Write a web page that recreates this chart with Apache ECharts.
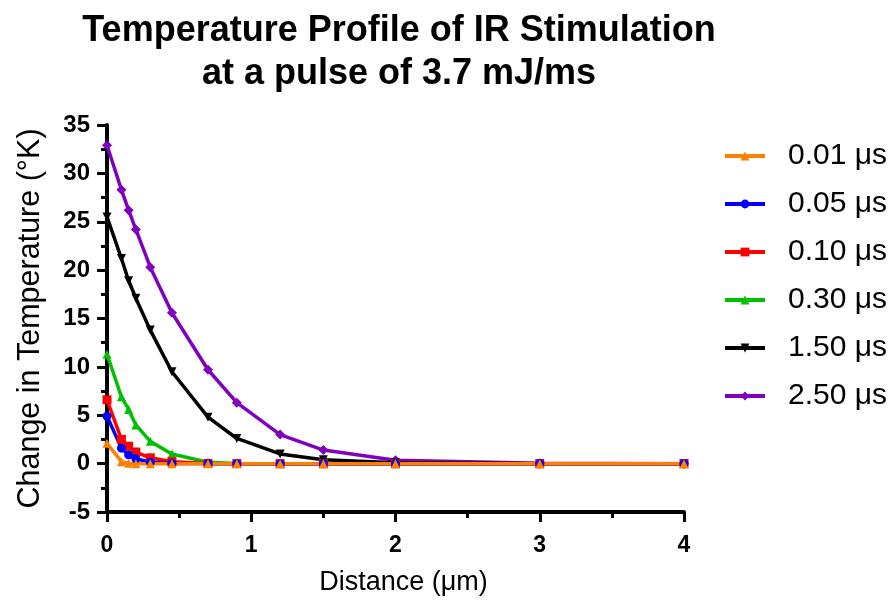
<!DOCTYPE html>
<html>
<head>
<meta charset="utf-8">
<title>Temperature Profile of IR Stimulation</title>
<script src="https://cdn.jsdelivr.net/npm/echarts@6/dist/echarts.min.js"></script>
<style>
  html, body { margin: 0; padding: 0; background: #fff; }
  #chart { width: 895px; height: 605px; }
</style>
</head>
<body>
<div id="chart"></div>
<script>
// distance (µm) shared by every series
var distance = [0, 0.1, 0.15, 0.2, 0.3, 0.45, 0.7, 0.9, 1.2, 1.5, 2, 3, 4]

var seriesNames = ['0.01 μs', '0.05 μs', '0.10 μs', '0.30 μs', '1.50 μs', '2.50 μs']

// change in temperature (°K)
var t001 = [2.1, 0.2, 0.05, 0, 0, 0, 0, 0, 0, 0, 0, 0, 0]
var t005 = [4.9, 1.6, 0.9, 0.5, 0.15, 0.02, 0, 0, 0, 0, 0, 0, 0]
var t010 = [6.6, 2.5, 1.8, 1.2, 0.6, 0.2, 0.02, 0, 0, 0, 0, 0, 0]
var t030 = [11.3, 6.9, 5.6, 4.0, 2.3, 1.0, 0.15, 0.02, 0, 0, 0, 0, 0]
var t150 = [25.5, 21.2, 18.9, 17.1, 13.8, 9.5, 4.8, 2.6, 1.0, 0.4, 0.1, 0, 0]
var t250 = [32.9, 28.3, 26.2, 24.2, 20.3, 15.6, 9.7, 6.3, 3.0, 1.4, 0.35, 0.05, 0]

var xTicks = [0, 1, 2, 3, 4]
var yTicks = [-5, 0, 5, 10, 15, 20, 25, 30, 35]

function pairs (ys) {
  return distance.map(function (x, i) { return [x, ys[i]] })
}

var fontFamily = '"Liberation Sans", Arial, sans-serif'

var styles = [
  { color: '#FF8000', symbol: 'triangle', rotate: 0, size: 9 },
  { color: '#0000FF', symbol: 'circle', rotate: 0, size: 9 },
  { color: '#FF0000', symbol: 'rect', rotate: 0, size: 9 },
  { color: '#00C000', symbol: 'triangle', rotate: 0, size: 9 },
  { color: '#000000', symbol: 'triangle', rotate: 180, size: 9 },
  { color: '#7F00BF', symbol: 'diamond', rotate: 0, size: 10 }
]
var values = [t001, t005, t010, t030, t150, t250]

var series = []
// draw the longest-lived curve first so that 0.01 µs lies on top
for (var i = values.length - 1; i >= 0; i--) {
  series.push({
    name: seriesNames[i],
    type: 'line',
    data: pairs(values[i]),
    symbol: styles[i].symbol,
    symbolRotate: styles[i].rotate,
    symbolSize: styles[i].size,
    showAllSymbol: true,
    lineStyle: { color: styles[i].color, width: 3.5 },
    itemStyle: { color: styles[i].color },
    emphasis: { disabled: true }
  })
}

var myChart = echarts.init(document.getElementById('chart'))
myChart.setOption({
  animation: false,
  title: {
    text: 'Temperature Profile of IR Stimulation\nat a pulse of 3.7 mJ/ms',
    left: 394,
    top: 5,
    textAlign: 'center',
    textStyle: {
      color: '#000',
      fontFamily: fontFamily,
      fontWeight: 'bold',
      fontSize: 36,
      lineHeight: 43
    }
  },
  legend: {
    data: seriesNames,
    orient: 'vertical',
    left: 718,
    top: 136,
    itemWidth: 40,
    itemHeight: 11,
    itemGap: 18,
    lineStyle: { width: 4 },
    textStyle: {
      color: '#000',
      fontFamily: fontFamily,
      fontSize: 30,
      padding: [0, 0, 0, 18]
    }
  },
  grid: {
    left: 107,
    right: 211,
    top: 125,
    bottom: 93
  },
  xAxis: {
    type: 'value',
    min: xTicks[0],
    max: xTicks[xTicks.length - 1],
    interval: 1,
    name: 'Distance (μm)',
    nameLocation: 'middle',
    nameGap: 57,
    nameTextStyle: { color: '#000', fontFamily: fontFamily, fontSize: 27, padding: [0, 0, 0, 16] },
    axisLine: { onZero: false, lineStyle: { color: '#000', width: 4 } },
    axisTick: { length: 10, lineStyle: { width: 3 } },
    minorTick: { show: true, splitNumber: 2, length: 6, lineStyle: { color: '#000', width: 3 } },
    axisLabel: { color: '#000', fontFamily: fontFamily, fontWeight: 'bold', fontSize: 23, margin: 22 },
    splitLine: { show: false }
  },
  yAxis: {
    type: 'value',
    min: yTicks[0],
    max: yTicks[yTicks.length - 1],
    interval: 5,
    name: 'Change in Temperature (°K)',
    nameLocation: 'middle',
    nameGap: 61,
    nameTextStyle: { color: '#000', fontFamily: fontFamily, fontSize: 30.5 },
    axisLine: { onZero: false, lineStyle: { color: '#000', width: 4 } },
    axisTick: { length: 10, lineStyle: { width: 3 } },
    minorTick: { show: true, splitNumber: 2, length: 6, lineStyle: { color: '#000', width: 3 } },
    axisLabel: { color: '#000', fontFamily: fontFamily, fontWeight: 'bold', fontSize: 24, margin: 17 },
    splitLine: { show: false }
  },
  series: series
})
</script>
</body>
</html>
